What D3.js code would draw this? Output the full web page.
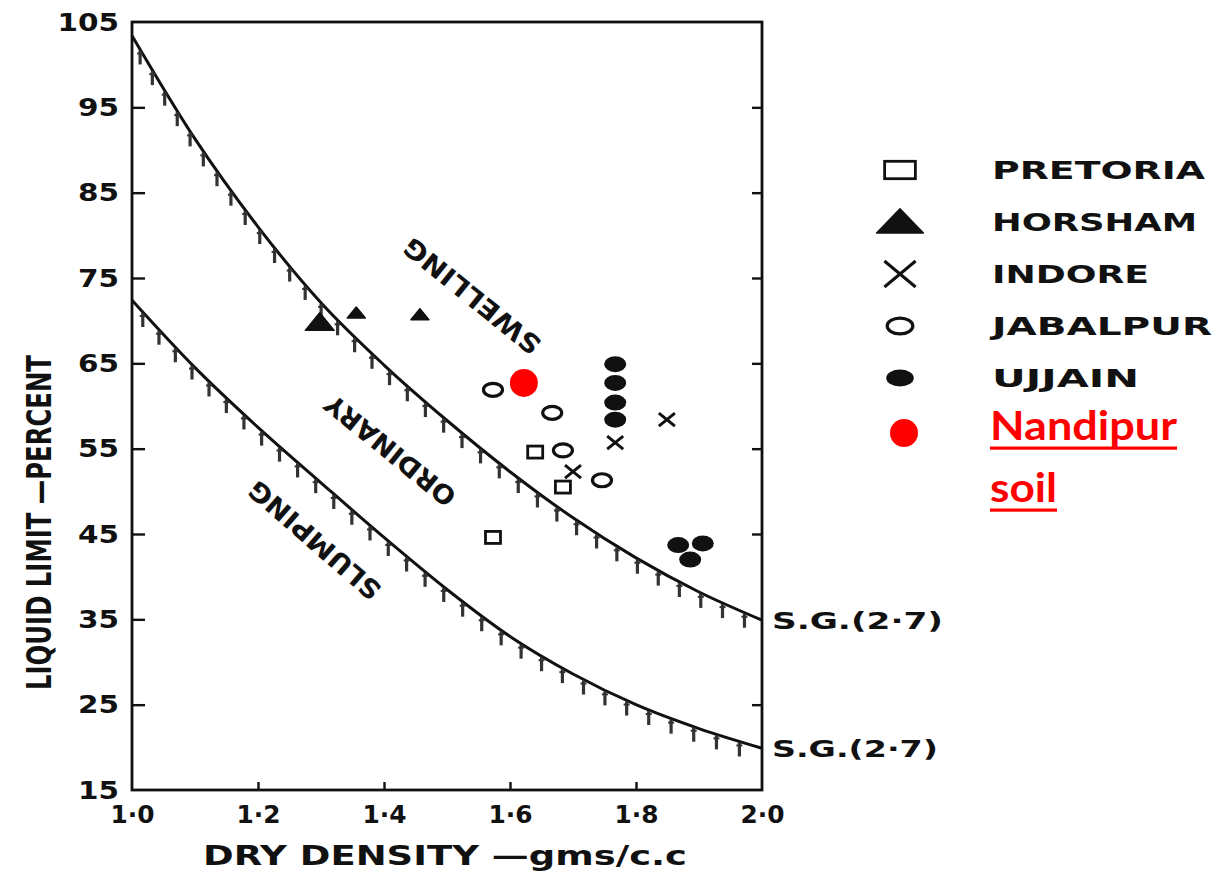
<!DOCTYPE html>
<html><head><meta charset="utf-8">
<script src="https://cdn.jsdelivr.net/npm/d3@7"></script>
<style>body{margin:0;background:#fff}svg{display:block}</style>
</head><body><svg id="c" width="1218" height="871"></svg>
<script>
// ---------- data ----------
const xTicks = [1.0, 1.2, 1.4, 1.6, 1.8, 2.0];
const xTickLabels = ["1·0", "1·2", "1·4", "1·6", "1·8", "2·0"];
const yTicks = [15, 25, 35, 45, 55, 65, 75, 85, 95, 105];
const curveDensity = [1.0, 1.1, 1.2, 1.3, 1.4, 1.5, 1.6, 1.7, 1.8, 1.9, 2.0];
const upperLL = [103.4, 91.3, 81.0, 72.1, 64.8, 58.3, 52.3, 46.9, 42.2, 38.2, 34.9];
const lowerLL = [72.4, 64.5, 57.5, 51.0, 44.6, 38.5, 33.0, 28.6, 25.0, 22.2, 19.9];
const curveLabels = ["S.G.(2·7)", "S.G.(2·7)"];
const zoneLabels = ["SWELLING", "ORDINARY", "SLUMPING"];
const zoneAnchors = [[1.54, 72.9], [1.41, 54.8], [1.29, 44.3]];

const seriesNames = ["PRETORIA", "HORSHAM", "INDORE", "JABALPUR", "UJJAIN"];
const pretoria = [[1.573, 44.6], [1.640, 54.6], [1.684, 50.5]];
const horsham = [[1.298, 69.8], [1.356, 70.9], [1.457, 70.7]];
const indore = [[1.700, 52.3], [1.767, 55.7], [1.849, 58.4]];
const jabalpur = [[1.573, 61.9], [1.667, 59.2], [1.684, 54.8], [1.746, 51.3]];
const ujjain = [[1.767, 64.9], [1.767, 62.7], [1.767, 60.4], [1.767, 58.4],
                [1.867, 43.7], [1.906, 43.9], [1.886, 42.0]];
const nandipur = [[1.622, 62.7]];
const nandipurLabel = ["Nandipur", "soil"];

// ---------- layout ----------
const svg = d3.select("#c");
const ink = "#111";
const x = d3.scaleLinear().domain([1, 2]).range([132, 762]);
const y = d3.scaleLinear().domain([15, 105]).range([790, 22]);
const font = "'DejaVu Sans', sans-serif";

// frame
svg.append("rect").attr("x", x(1)).attr("y", y(105))
  .attr("width", x(2) - x(1)).attr("height", y(15) - y(105))
  .attr("fill", "none").attr("stroke", ink).attr("stroke-width", 2.8);

// bottom axis
const gx = svg.append("g").attr("transform", `translate(0,${y(15)})`)
  .call(d3.axisBottom(x).tickValues(xTicks).tickSize(-8).tickPadding(15)
    .tickFormat((d, i) => xTickLabels[i]));
gx.select(".domain").remove();
gx.selectAll(".tick line").attr("stroke", ink).attr("stroke-width", 2.4)
  .attr("display", (d) => (d === 1 || d === 2) ? "none" : null);
gx.selectAll(".tick text").attr("font-family", font).attr("font-weight", "bold")
  .attr("font-size", 25).attr("fill", ink)
  .attr("textLength", 44).attr("lengthAdjust", "spacingAndGlyphs");

// left axis
const gy = svg.append("g").attr("transform", `translate(${x(1)},0)`)
  .call(d3.axisLeft(y).tickValues(yTicks).tickSize(-13).tickPadding(13));
gy.select(".domain").remove();
gy.selectAll(".tick line").attr("stroke", ink).attr("stroke-width", 2.4)
  .attr("display", (d) => (d === 15 || d === 105) ? "none" : null);
gy.selectAll(".tick text").attr("font-family", font).attr("font-weight", "bold")
  .attr("font-size", 25).attr("fill", ink)
  .attr("textLength", (d) => String(d).length * 20.5).attr("lengthAdjust", "spacingAndGlyphs");

// right axis ticks (inside)
const gr = svg.append("g").attr("transform", `translate(${x(2)},0)`)
  .call(d3.axisRight(y).tickValues(yTicks.filter(v => v > 15 && v < 105 && v !== 35))
    .tickSize(-10).tickFormat(""));
gr.select(".domain").remove();
gr.selectAll(".tick line").attr("stroke", ink).attr("stroke-width", 2.4);

// axis titles
svg.append("text").attr("x", 203).attr("y", 865)
  .attr("font-family", font).attr("font-weight", "bold").attr("font-size", 27)
  .attr("fill", ink).attr("textLength", 484).attr("lengthAdjust", "spacingAndGlyphs")
  .text("DRY DENSITY —gms/c.c");
svg.append("text").attr("transform", "translate(51,690) rotate(-90)")
  .attr("font-family", font).attr("font-weight", "bold").attr("font-size", 34)
  .attr("fill", ink).attr("textLength", 335).attr("lengthAdjust", "spacingAndGlyphs")
  .text("LIQUID LIMIT —PERCENT");

// ---------- curves with hatching ----------
const line = d3.line().x(d => x(d[0])).y(d => y(d[1])).curve(d3.curveMonotoneX);
[upperLL, lowerLL].forEach((vals, k) => {
  const pts = curveDensity.map((d, i) => [d, vals[i]]);
  const p = svg.append("path").attr("d", line(pts)).attr("fill", "none")
    .attr("stroke", ink).attr("stroke-width", 3);
  const node = p.node();
  const L = node.getTotalLength();
  const hatch = svg.append("g").attr("stroke", "#333");
  for (let s = 16; s < L - 8; s += 24) {
    const q = node.getPointAtLength(s);
    hatch.append("line").attr("x1", q.x).attr("y1", q.y + 1)
      .attr("x2", q.x).attr("y2", q.y + 15).attr("stroke-width", 3.2);
    hatch.append("line").attr("x1", q.x - 3).attr("y1", q.y + 4)
      .attr("x2", q.x + 3).attr("y2", q.y + 4).attr("stroke-width", 2);
  }
  // S.G. label at curve end
  svg.append("text").attr("x", x(2) + 10).attr("y", y(vals[vals.length - 1]) + 9)
    .attr("font-family", font).attr("font-weight", "bold").attr("font-size", 23)
    .attr("fill", ink).attr("textLength", k === 0 ? 171 : 166)
    .attr("lengthAdjust", "spacingAndGlyphs").text(curveLabels[k]);
});

// zone labels (upside-down along curves)
const zoneAngles = [219, 219, 221];
const zoneLens = [168, 160, 166];
zoneLabels.forEach((t, i) => {
  svg.append("text")
    .attr("transform", `translate(${x(zoneAnchors[i][0])},${y(zoneAnchors[i][1])}) rotate(${zoneAngles[i]})`)
    .attr("text-anchor", "middle").attr("dominant-baseline", "central")
    .attr("font-family", font).attr("font-weight", "bold").attr("font-size", 26)
    .attr("fill", ink).attr("textLength", zoneLens[i]).attr("lengthAdjust", "spacingAndGlyphs")
    .text(t);
});

// ---------- markers ----------
function drawMarker(g, type, cx, cy, sx, sy) {
  sx = sx || 1; sy = sy || sx;
  if (type === 0) {          // open square
    g.append("rect").attr("x", cx - 7.5 * sx).attr("y", cy - 6 * sy)
      .attr("width", 15 * sx).attr("height", 12 * sy)
      .attr("fill", "none").attr("stroke", ink).attr("stroke-width", 2.8);
  } else if (type === 1) {   // filled triangle
    g.append("path").attr("d",
      `M${cx - 9 * sx},${cy + 5 * sy}L${cx + 9 * sx},${cy + 5 * sy}L${cx},${cy - 6 * sy}Z`)
      .attr("fill", ink).attr("stroke", ink).attr("stroke-width", 1.5).attr("stroke-linejoin", "round");
  } else if (type === 2) {   // cross
    g.append("path").attr("d",
      `M${cx - 8 * sx},${cy - 6.5 * sy}L${cx + 8 * sx},${cy + 6.5 * sy}M${cx - 8 * sx},${cy + 6.5 * sy}L${cx + 8 * sx},${cy - 6.5 * sy}`)
      .attr("stroke", ink).attr("stroke-width", 3).attr("fill", "none");
  } else if (type === 3) {   // open circle
    g.append("ellipse").attr("cx", cx).attr("cy", cy).attr("rx", 9.5 * sx).attr("ry", 6.5 * sy)
      .attr("fill", "none").attr("stroke", ink).attr("stroke-width", 3.2);
  } else if (type === 4) {   // filled circle
    g.append("ellipse").attr("cx", cx).attr("cy", cy).attr("rx", 11 * sx).attr("ry", 8 * sy)
      .attr("fill", ink);
  }
}
const allSeries = [pretoria, horsham, indore, jabalpur, ujjain];
const mg = svg.append("g");
allSeries.forEach((ser, t) => {
  ser.forEach((d, j) => {
    const big = (t === 1 && j === 0) ? 1.6 : 1;
    drawMarker(mg, t, x(d[0]), y(d[1]), big);
  });
});
nandipur.forEach(d => {
  svg.append("circle").attr("cx", x(d[0])).attr("cy", y(d[1])).attr("r", 14).attr("fill", "#ff0000");
});

// ---------- legend ----------
const legendLens = [213, 205, 157, 220, 147];
const legSX = [2.05, 2.6, 1.95, 1.35, 1.25];
const legSY = [1.45, 2.2, 2.0, 1.2, 1.05];
const lg = svg.append("g");
seriesNames.forEach((n, i) => {
  const cy = 170 + i * 52;
  drawMarker(lg, i, 900, cy, legSX[i], legSY[i]);
  lg.append("text").attr("x", 992).attr("y", cy + 9)
    .attr("font-family", font).attr("font-weight", "bold").attr("font-size", 25)
    .attr("fill", ink).attr("textLength", legendLens[i]).attr("lengthAdjust", "spacingAndGlyphs")
    .text(n);
});
lg.append("circle").attr("cx", 904).attr("cy", 433).attr("r", 14).attr("fill", "#ff0000");
const nl = [[440, 187, 448], [502, 67, 510]];
nandipurLabel.forEach((t, i) => {
  lg.append("text").attr("x", 990).attr("y", nl[i][0])
    .attr("font-family", "Lato, 'Open Sans', sans-serif").attr("font-weight", "bold").attr("font-size", 40)
    .attr("fill", "#ff0000").attr("textLength", nl[i][1]).attr("lengthAdjust", "spacingAndGlyphs")
    .text(t);
  lg.append("rect").attr("x", 990).attr("y", nl[i][2] - 1.5).attr("width", nl[i][1]).attr("height", 3.2)
    .attr("fill", "#ff0000");
});
</script></body></html>
